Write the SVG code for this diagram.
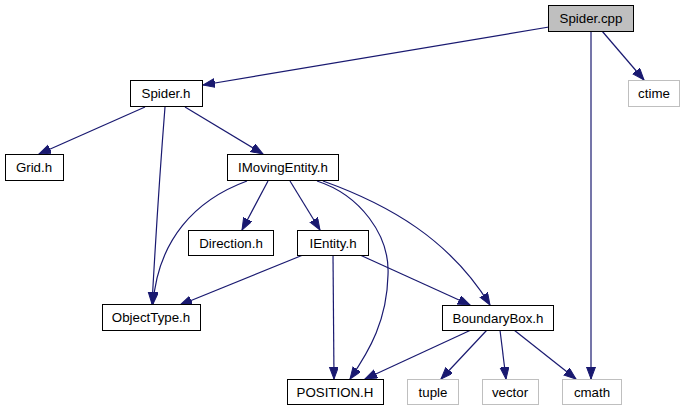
<svg xmlns="http://www.w3.org/2000/svg" width="689" height="411" viewBox="0 0 689 411">
<style>
.n rect{fill:#fff;stroke:#000;stroke-width:1}
.n.g rect{stroke:#bfbfbf}
.n.r rect{fill:#bfbfbf;stroke:#000}
.n text{font-family:"Liberation Sans",Arial,sans-serif;font-size:13.3px;text-anchor:middle;fill:#000}
.e path{fill:none;stroke:#191970;stroke-width:1.2;marker-end:url(#a)}
</style>
<defs>
<marker id="a" markerUnits="userSpaceOnUse" markerWidth="13" markerHeight="10" refX="12" refY="4.5" orient="auto">
<path d="M0,0 L12,4.5 L0,9 z" fill="#191970" stroke="#191970"/>
</marker>
</defs>
<rect width="689" height="411" fill="#fff"/>
<g id="edges" class="e">
<path d="M549,27 L203,85"/>
<path d="M602,31 L644,80"/>
<path d="M591,31 L591,379"/>
<path d="M145,107 L39,154"/>
<path d="M165,107 C160,170 155,250 152,304"/>
<path d="M185,107 L263,154"/>
<path d="M247,181 C195,200 158,240 153,304"/>
<path d="M268,181 L242,230"/>
<path d="M290,181 L320,230"/>
<path d="M317,181 C360,195 390,235 388,275 C387,320 370,350 350,379"/>
<path d="M323,181 C390,205 450,240 490,305"/>
<path d="M303,255 L180,305"/>
<path d="M333,255 L334,379"/>
<path d="M360,255 L470,305"/>
<path d="M471,330 L365,379"/>
<path d="M487,330 L441,379"/>
<path d="M500,330 L506,379"/>
<path d="M514,330 L576,379"/>
</g>
<g id="spider_cpp" class="n r"><rect x="548.5" y="5.5" width="85" height="26"/><text x="591" y="23">Spider.cpp</text></g>
<g id="ctime" class="n g"><rect x="628.5" y="80.5" width="51" height="26"/><text x="654" y="98">ctime</text></g>
<g id="spider_h" class="n"><rect x="130.5" y="80.5" width="72" height="26"/><text x="166" y="98">Spider.h</text></g>
<g id="grid_h" class="n"><rect x="5.5" y="154.5" width="58" height="26"/><text x="34" y="172">Grid.h</text></g>
<g id="imovingentity_h" class="n"><rect x="227.5" y="154.5" width="111" height="26"/><text x="283" y="172">IMovingEntity.h</text></g>
<g id="direction_h" class="n"><rect x="188.5" y="230.5" width="85" height="25"/><text x="231" y="248">Direction.h</text></g>
<g id="ientity_h" class="n"><rect x="297.5" y="230.5" width="71" height="25"/><text x="333" y="248">IEntity.h</text></g>
<g id="objecttype_h" class="n"><rect x="102.5" y="304.5" width="98" height="26"/><text x="151" y="322">ObjectType.h</text></g>
<g id="boundarybox_h" class="n"><rect x="442.5" y="305.5" width="111" height="25"/><text x="498" y="323">BoundaryBox.h</text></g>
<g id="position_h" class="n"><rect x="287.5" y="379.5" width="96" height="25"/><text x="335" y="397">POSITION.H</text></g>
<g id="tuple" class="n g"><rect x="407.5" y="379.5" width="51" height="25"/><text x="433" y="397">tuple</text></g>
<g id="vector" class="n g"><rect x="482.5" y="379.5" width="56" height="25"/><text x="510" y="397">vector</text></g>
<g id="cmath" class="n g"><rect x="562.5" y="379.5" width="59" height="25"/><text x="592" y="397">cmath</text></g>
</svg>
